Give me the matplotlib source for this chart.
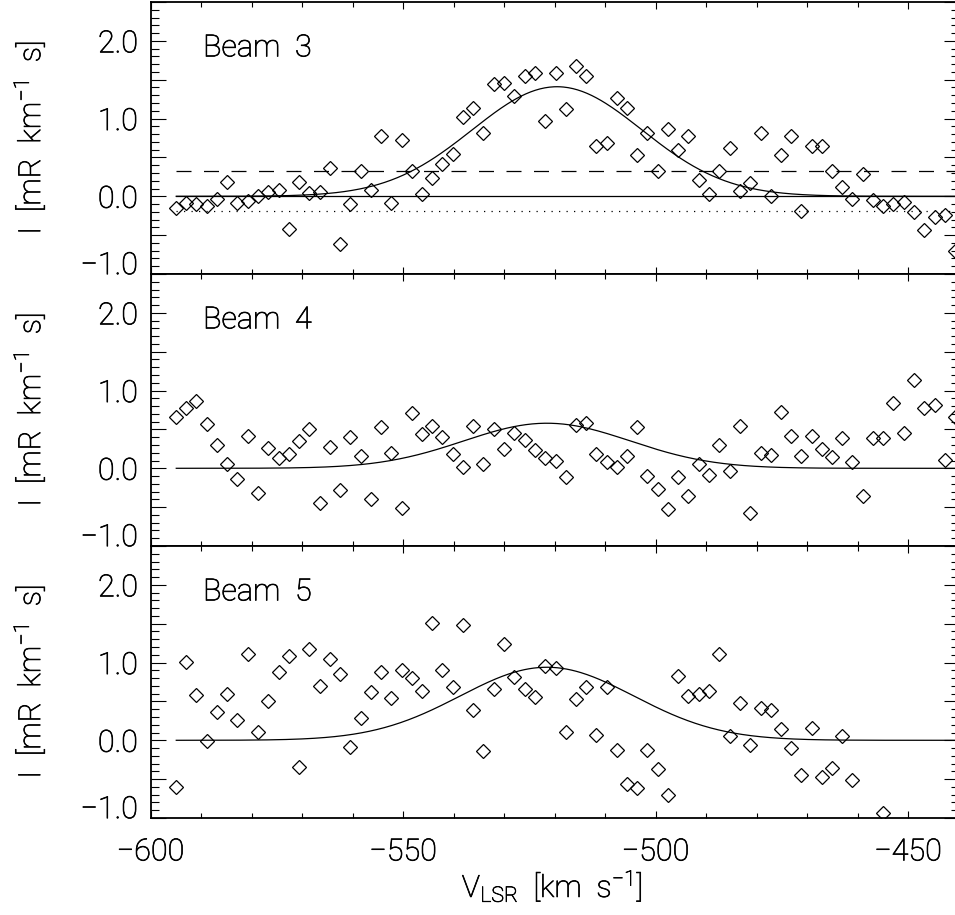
import numpy as np
import matplotlib.pyplot as plt
import matplotlib.text as mtext
import matplotlib.patheffects as pe
from matplotlib.ticker import MultipleLocator, FuncFormatter

# скорости каналов, км/с
velocity = [-594.9, -592.9, -590.9, -588.9, -586.8, -584.8, -582.8, -580.7, -578.7, -576.7,
            -574.6, -572.6, -570.6, -568.6, -566.5, -564.5, -562.4, -560.4, -558.4, -556.4,
            -554.3, -552.3, -550.3, -548.3, -546.2, -544.2, -542.2, -540.1, -538.1, -536.1,
            -534.1, -532.0, -530.0, -528.0, -525.9, -523.9, -521.9, -519.8, -517.8, -515.8,
            -513.8, -511.7, -509.7, -507.7, -505.6, -503.6, -501.6, -499.5, -497.5, -495.5,
            -493.5, -491.4, -489.4, -487.4, -485.3, -483.3, -481.3, -479.2, -477.2, -475.2,
            -473.2, -471.1, -469.1, -467.1, -465.0, -463.0, -461.0, -458.9, -456.9, -454.9,
            -452.9, -450.8, -448.8, -446.8, -444.7, -442.7, -440.7]

# интенсивности по лучам
beam3 = [-0.15, -0.09, -0.10, -0.13, -0.03, 0.18, -0.08, -0.06, 0.00, 0.06,
         0.08, -0.42, 0.19, 0.04, 0.05, 0.36, -0.61, -0.10, 0.33, 0.08,
         0.78, -0.08, 0.72, 0.33, 0.03, 0.23, 0.42, 0.55, 1.02, 1.13,
         0.82, 1.45, 1.46, 1.29, 1.55, 1.59, 0.97, 1.59, 1.12, 1.68,
         1.55, 0.65, 0.68, 1.27, 1.13, 0.53, 0.81, 0.33, 0.87, 0.59,
         0.77, 0.21, 0.03, 0.33, 0.62, 0.07, 0.17, 0.82, 0.00, 0.53,
         0.77, -0.19, 0.65, 0.65, 0.33, 0.12, -0.04, 0.29, -0.05, -0.12,
         -0.10, -0.07, -0.20, -0.43, -0.27, -0.24, -0.71]

beam4 = [0.66, 0.78, 0.86, 0.57, 0.30, 0.05, -0.14, 0.42, -0.32, 0.26,
         0.13, 0.19, 0.35, 0.50, -0.45, 0.27, -0.28, 0.40, 0.16, -0.39,
         0.53, 0.20, -0.51, 0.71, 0.44, 0.55, 0.40, 0.18, 0.02, 0.54,
         0.05, 0.51, 0.25, 0.45, 0.36, 0.23, 0.13, 0.10, -0.11, 0.56,
         0.58, 0.18, 0.08, 0.02, 0.16, 0.53, -0.10, -0.27, -0.52, -0.11,
         -0.36, 0.05, -0.08, 0.30, -0.04, 0.54, -0.57, 0.20, 0.17, 0.73,
         0.41, 0.16, 0.41, 0.25, 0.15, 0.39, 0.08, -0.36, 0.39, 0.39,
         0.84, 0.45, 1.13, 0.78, 0.81, 0.11, 0.66]

nan = np.nan
beam5 = [-0.60, 1.01, 0.58, -0.01, 0.37, 0.60, 0.26, 1.11, 0.11, 0.51,
         0.88, 1.08, -0.35, 1.18, 0.70, 1.05, 0.85, -0.09, 0.29, 0.62,
         0.88, 0.54, 0.90, 0.80, 0.63, 1.51, 0.91, 0.68, 1.49, 0.39,
         -0.14, 0.66, 1.24, 0.81, 0.66, 0.56, 0.95, 0.93, 0.11, 0.53,
         0.68, 0.07, 0.69, -0.13, -0.56, -0.61, -0.13, -0.37, -0.70, 0.83,
         0.57, 0.59, 0.63, 1.11, 0.06, 0.48, -0.06, 0.41, 0.39, 0.14,
         -0.10, -0.45, 0.16, -0.47, -0.36, 0.06, -0.51, nan, nan, -0.93,
         nan, nan, nan, nan, nan, nan, nan]

beam_names = ['Beam  3', 'Beam  4', 'Beam  5']

# параметры гауссовых подгонок (амплитуда, центр, сигма)
fit_amp = [1.41, 0.58, 0.94]
fit_center = [-519.5, -521.5, -521.5]
fit_sigma = [16.8, 16.5, 17.2]

# горизонтальные уровни на панели Beam 3
level_zero = 0.0
level_dash = 0.33
level_dot = -0.19

# шрифт - тонкий Roboto
plt.rcParams['font.family'] = ['Roboto', 'DejaVu Sans']
plt.rcParams['font.weight'] = 'light'
plt.rcParams['axes.labelweight'] = 'light'
plt.rcParams['font.size'] = 22
plt.rcParams['mathtext.fontset'] = 'custom'
plt.rcParams['mathtext.rm'] = 'Roboto:light'
plt.rcParams['mathtext.it'] = 'Roboto:light'
plt.rcParams['mathtext.default'] = 'rm'


def y_label(val, pos):
    # подписи только на целых значениях, нижнюю -1.0 ставим отдельно
    r = round(val, 1) + 0.0
    if abs(r - round(r)) < 1e-6 and r > -0.99:
        return f'{r:.1f}'.replace('-', '\u2212')
    return ''


def x_label(val, pos):
    return f'{val:.0f}'.replace('-', '\u2212')


fig, axes = plt.subplots(3, 1, figsize=(9.55, 9.15), dpi=100, sharex=True)
fig.subplots_adjust(left=0.1576, right=1.0037, bottom=0.106, top=0.9978, hspace=0)

data = [beam3, beam4, beam5]
v_model = np.linspace(velocity[0], -440, 500)

for i, ax in enumerate(axes):
    # точки - открытые ромбы
    ax.plot(velocity, data[i], linestyle='none', marker='D', ms=6.8,
            mfc='none', mec='black', mew=0.9)

    # гауссова подгонка
    g = fit_amp[i] * np.exp(-(v_model - fit_center[i]) ** 2 / (2 * fit_sigma[i] ** 2))
    ax.plot(v_model, g, color='black', lw=0.9)

    ax.set_xlim(-600, -440)
    ax.set_ylim(-1.0, 2.5)

    ax.text(-589.6, 1.80, beam_names[i], va='baseline', ha='left')

    ax.set_ylabel('I  [mR  km$^{-1}$  s]')
    ax.yaxis.set_label_coords(-0.128, 0.5)

    # деления
    ax.xaxis.set_major_locator(MultipleLocator(50))
    ax.xaxis.set_minor_locator(MultipleLocator(10))
    ax.yaxis.set_major_locator(MultipleLocator(0.5))
    ax.yaxis.set_minor_locator(MultipleLocator(0.1))
    ax.yaxis.set_major_formatter(FuncFormatter(y_label))
    ax.xaxis.set_major_formatter(FuncFormatter(x_label))
    ax.tick_params(which='both', direction='in', top=True, right=True, width=0.8)
    ax.tick_params(axis='x', which='major', length=5, pad=14)
    ax.tick_params(axis='x', which='minor', length=3.5)
    ax.tick_params(axis='y', which='major', length=11, pad=9)
    ax.tick_params(axis='y', which='minor', length=6)
    for s in ax.spines.values():
        s.set_linewidth(1.3)

    # подпись -1.0 немного выше деления
    ax.annotate('\u22121.0', xy=(0, -1.0), xycoords=('axes fraction', 'data'),
                xytext=(-9, 6), textcoords='offset points', ha='right', va='center',
                annotation_clip=False)

# линии уровней на верхней панели
axes[0].plot([velocity[0], -440], [level_zero, level_zero], color='black', lw=0.9)
axes[0].plot([velocity[0], -440], [level_dash, level_dash], color='black', lw=0.9,
             linestyle=(0, (12, 10)))
axes[0].plot([velocity[0], -440], [level_dot, level_dot], color='black', lw=0.9,
             linestyle=(0, (1, 5)))

axes[2].set_xlabel('V$_{LSR}$  [km  s$^{-1}$]')
axes[2].xaxis.set_label_coords(0.497, -0.18)

# чуть утолщаем тонкий шрифт, чтобы был темнее
fig.canvas.draw()
for t in fig.findobj(mtext.Text):
    t.set_path_effects([pe.withStroke(linewidth=0.5, foreground='black')])

plt.savefig('out.png', dpi=100)
